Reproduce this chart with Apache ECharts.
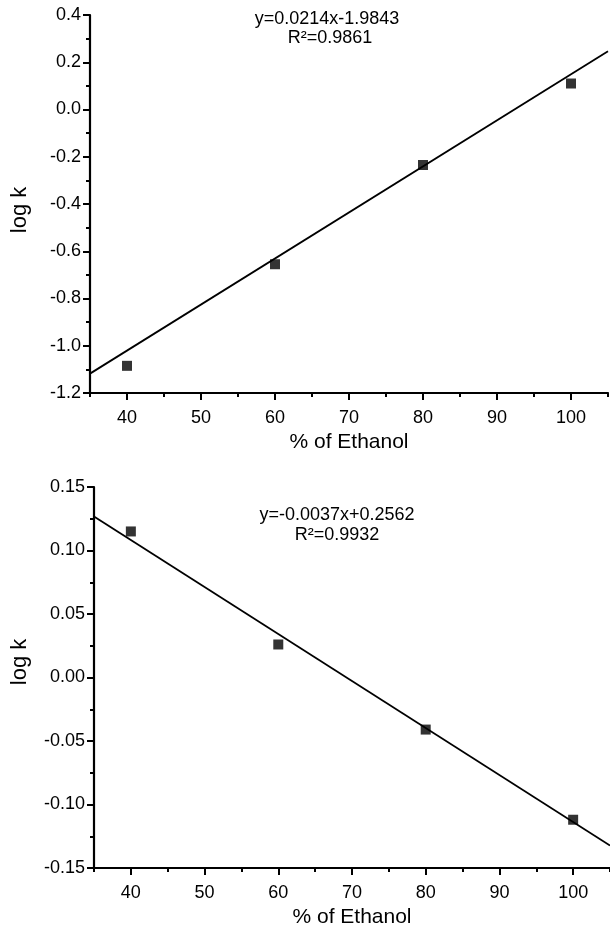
<!DOCTYPE html>
<html><head><meta charset="utf-8">
<script src="https://cdn.jsdelivr.net/npm/echarts@6/dist/echarts.min.js"></script>
<style>html,body{margin:0;padding:0;background:#fff}#c{width:610px;height:931px}</style>
</head><body><div id="c"></div>
<script>
// ---- data ----
const ethanol = [40, 60, 80, 100];
const topLogK = [-1.085, -0.655, -0.235, 0.11];
const topFitX = [35, 105];
const topFitY = [-1.118, 0.247];
const botLogK = [0.115, 0.026, -0.041, -0.112];
const botFitX = [35, 105];
const botFitY = [0.1267, -0.1323];
const xMajor = [40, 50, 60, 70, 80, 90, 100];
const xMinor = [35, 45, 55, 65, 75, 85, 95, 105];
const topEq = ['y=0.0214x-1.9843', 'R²=0.9861'];
const botEq = ['y=-0.0037x+0.2562', 'R²=0.9932'];
const xName = '% of Ethanol';
const yName = 'log k';

const FONT = 'Liberation Sans, Arial, sans-serif';
const chart = echarts.init(document.getElementById('c'), null, {renderer: 'canvas'});

function mainX(grid) {
  return {
    type: 'value', gridIndex: grid, position: 'bottom', min: 35, max: 105, interval: 5,
    name: xName, nameLocation: 'middle', nameGap: 39,
    nameTextStyle: {fontFamily: FONT, fontSize: 21, color: '#000'},
    axisLine: {show: true, onZero: false, lineStyle: {color: '#000', width: 2.2}},
    axisTick: {show: true, customValues: xMajor, length: 7, lineStyle: {color: '#000', width: 2}},
    axisLabel: {customValues: xMajor, margin: 16, fontFamily: FONT, fontSize: 18, color: '#000'},
    splitLine: {show: false}
  };
}
function minorX(grid) {
  return {
    type: 'value', gridIndex: grid, position: 'bottom', offset: 0, min: 35, max: 105, interval: 5,
    axisLine: {show: false, onZero: false},
    axisTick: {show: true, customValues: xMinor, length: 4, lineStyle: {color: '#000', width: 2}},
    axisLabel: {show: false}, splitLine: {show: false}
  };
}
function yAx(grid, min, max, interval, dec) {
  return {
    type: 'value', gridIndex: grid, position: 'left', min: min, max: max, interval: interval,
    axisLine: {show: true, onZero: false, lineStyle: {color: '#000', width: 2.2}},
    axisTick: {show: true, length: 7, lineStyle: {color: '#000', width: 2}},
    minorTick: {show: true, splitNumber: 2, length: 4, lineStyle: {color: '#000', width: 2}},
    axisLabel: {margin: 9, fontFamily: FONT, fontSize: 18, color: '#000',
      formatter: v => (Math.abs(v) < 1e-9 ? 0 : v).toFixed(dec)},
    splitLine: {show: false}, minorSplitLine: {show: false}
  };
}
function txt(s, x, y, size, rot) {
  return {type: 'text', x: x, y: y, rotation: rot || 0,
    style: {text: s, font: size + 'px ' + FONT, fill: '#000', align: 'center', verticalAlign: 'middle'}};
}

const option = {
  animation: false,
  backgroundColor: '#fff',
  grid: [
    {left: 90, top: 15, width: 518, height: 378},
    {left: 94, top: 487, width: 518, height: 381}
  ],
  xAxis: [mainX(0), minorX(0), mainX(1), minorX(1)],
  yAxis: [yAx(0, -1.2, 0.4, 0.2, 1), yAx(1, -0.15, 0.15, 0.05, 2)],
  series: [
    {type: 'line', xAxisIndex: 0, yAxisIndex: 0, data: topFitX.map((x, i) => [x, topFitY[i]]),
      showSymbol: false, lineStyle: {color: '#000', width: 1.8}, silent: true},
    {type: 'scatter', xAxisIndex: 0, yAxisIndex: 0, data: ethanol.map((x, i) => [x, topLogK[i]]),
      symbol: 'rect', symbolSize: 10, itemStyle: {color: '#000'}},
    {type: 'line', xAxisIndex: 2, yAxisIndex: 1, data: botFitX.map((x, i) => [x, botFitY[i]]),
      showSymbol: false, lineStyle: {color: '#000', width: 1.8}, silent: true},
    {type: 'scatter', xAxisIndex: 2, yAxisIndex: 1, data: ethanol.map((x, i) => [x, botLogK[i]]),
      symbol: 'rect', symbolSize: 10, itemStyle: {color: '#000'}}
  ],
  graphic: [
    txt(topEq[0], 327, 19, 18),
    txt(topEq[1], 330, 38, 18),
    txt(botEq[0], 337, 515, 18),
    txt(botEq[1], 337, 535, 18),
    txt(yName, 20, 210, 22, Math.PI / 2),
    txt(yName, 20, 662, 22, Math.PI / 2)
  ]
};
chart.setOption(option);
</script></body></html>
